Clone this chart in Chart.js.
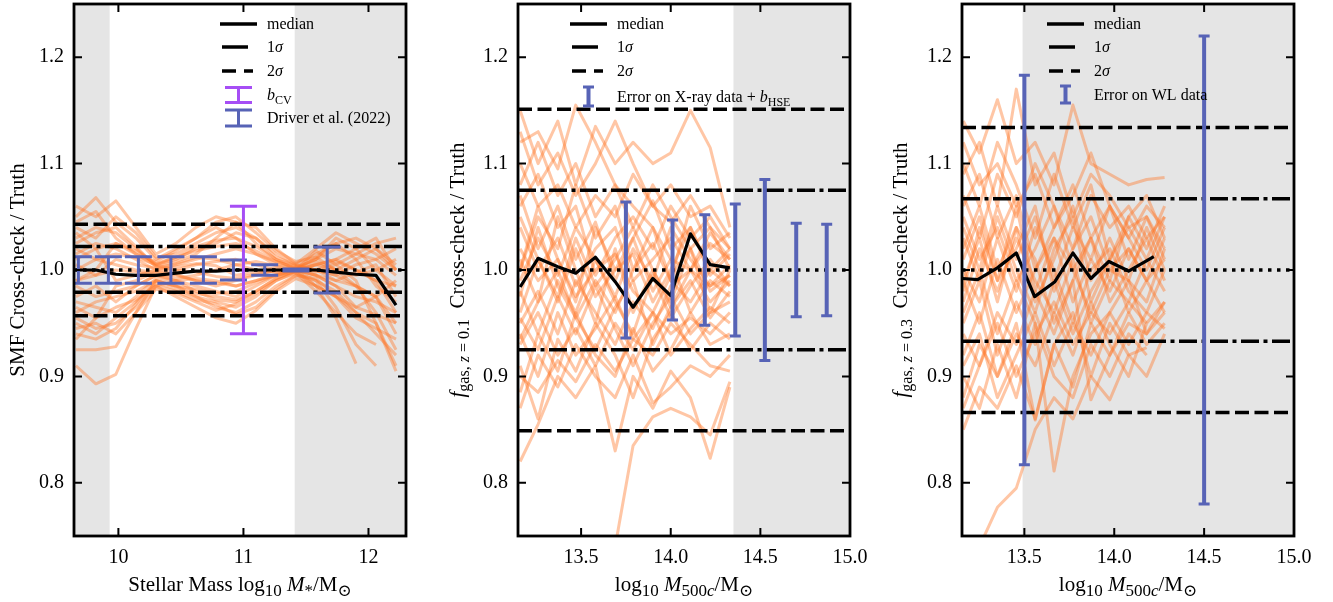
<!DOCTYPE html>
<html>
<head>
<meta charset="utf-8">
<script src="https://cdn.jsdelivr.net/npm/chart.js@4.4.1/dist/chart.umd.min.js"></script>
<style>
html, body { margin: 0; padding: 0; background: #fff; }
#wrap { position: relative; width: 1333px; height: 602px; overflow: hidden; }
.panel { position: absolute; top: 0; width: 440px; height: 602px; }
</style>
</head>
<body>
<div id="wrap">
  <div class="panel" style="left:0px"><canvas id="smf" width="440" height="602"></canvas></div>
  <div class="panel" style="left:444px"><canvas id="fgas1" width="440" height="602"></canvas></div>
  <div class="panel" style="left:888px"><canvas id="fgas3" width="440" height="602"></canvas></div>
</div>
<script>
// ---- tick labels ----
const yTicks = [0.8, 0.9, 1.0, 1.1, 1.2];
const smfTicks = [10, 11, 12];
const haloTicks = [13.5, 14.0, 14.5, 15.0];

// ---- panel 1 : stellar mass function ----
const smfMass = [9.66, 9.82, 9.98, 10.14, 10.30, 10.46, 10.62, 10.78, 10.94, 11.10, 11.26, 11.42, 11.58, 11.74, 11.90, 12.06, 12.22];
const smfMedian = [1.000, 1.000, 0.996, 0.995, 0.995, 0.997, 0.999, 0.999, 1.000, 1.000, 1.000, 1.000, 1.000, 0.998, 0.996, 0.995, 0.967];
const smfRuns = [
  [0.910, 0.893, 0.902, 0.945, 0.985, 0.990, 0.992, 0.990, 0.985, 0.990, 0.995, 0.998, 1.000, 0.995, 0.985, 0.975, 0.950],
  [1.050, 1.068, 1.045, 1.030, 1.010, 1.020, 1.030, 1.040, 1.030, 1.015, 1.005, 1.002, 1.010, 1.030, 1.020, 1.000, 0.985],
  [0.925, 0.925, 0.928, 0.960, 0.990, 0.985, 0.975, 0.965, 0.960, 0.970, 0.985, 0.995, 0.990, 0.965, 0.930, 0.910, null],
  [1.060, 1.050, 1.065, 1.040, 1.015, 1.025, 1.040, 1.050, 1.045, 1.025, 1.010, 1.000, 1.005, 1.010, 1.020, 1.030, 1.000],
  [0.955, 0.945, 0.950, 0.965, 0.985, 0.975, 0.965, 0.955, 0.950, 0.962, 0.980, 0.992, 0.985, 0.975, 0.960, 0.950, 0.905],
  [1.030, 1.040, 1.035, 1.020, 1.005, 1.010, 1.020, 1.025, 1.035, 1.030, 1.015, 1.005, 1.000, 0.995, 1.005, 1.010, 1.020],
  [0.970, 0.965, 0.960, 0.975, 0.992, 0.990, 0.985, 0.980, 0.975, 0.985, 0.995, 1.000, 0.995, 0.985, 0.975, 0.970, 0.960],
  [1.015, 1.025, 1.020, 1.010, 1.000, 1.005, 1.010, 1.015, 1.020, 1.015, 1.008, 1.003, 1.010, 1.020, 1.015, 1.025, 1.030],
  [0.985, 0.975, 0.980, 0.985, 0.995, 0.995, 0.990, 0.985, 0.990, 0.995, 1.000, 0.998, 0.985, 0.955, 0.912, null, null],
  [1.000, 1.010, 1.005, 1.000, 0.998, 1.000, 1.005, 1.008, 1.010, 1.005, 1.000, 1.000, 1.005, 1.010, 1.000, 0.990, 0.985],
  [0.945, 0.950, 0.940, 0.960, 0.982, 0.978, 0.970, 0.962, 0.968, 0.978, 0.990, 0.997, 0.980, 0.960, 0.940, 0.930, null],
  [1.040, 1.030, 1.050, 1.035, 1.012, 1.015, 1.025, 1.035, 1.040, 1.030, 1.012, 1.005, 1.015, 1.025, 1.030, 1.020, 1.005],
  [0.960, 0.970, 0.975, 0.980, 0.990, 0.985, 0.982, 0.978, 0.980, 0.988, 0.995, 1.002, 1.000, 0.990, 0.985, 0.975, 0.940],
  [1.020, 1.010, 1.015, 1.012, 1.005, 1.012, 1.018, 1.022, 1.025, 1.018, 1.008, 1.002, 0.998, 1.005, 1.015, 1.010, 0.995],
  [0.990, 0.995, 1.000, 0.998, 0.995, 0.992, 0.995, 1.000, 1.005, 1.000, 0.998, 1.000, 0.995, 0.990, 0.998, 1.005, 0.975],
  [0.950, 0.940, 0.955, 0.970, 0.988, 0.982, 0.975, 0.970, 0.965, 0.975, 0.990, 0.998, 1.005, 1.000, 0.985, 0.960, 0.925],
  [1.045, 1.055, 1.030, 1.015, 1.008, 1.018, 1.030, 1.045, 1.050, 1.035, 1.018, 1.008, 1.012, 1.000, 0.995, 1.000, 1.010],
  [0.935, 0.955, 0.965, 0.972, 0.985, 0.980, 0.972, 0.968, 0.958, 0.965, 0.982, 0.995, 0.992, 0.975, 0.955, 0.945, 0.935],
  [1.025, 1.035, 1.040, 1.022, 1.003, 1.008, 1.015, 1.030, 1.045, 1.040, 1.020, 1.006, 1.020, 1.035, 1.025, 1.015, 1.000],
  [0.975, 0.985, 0.970, 0.985, 0.995, 0.990, 0.980, 0.972, 0.970, 0.980, 0.992, 0.999, 0.990, 0.980, 0.960, 0.940, 0.920],
  [1.005, 0.995, 1.010, 1.005, 1.002, 1.006, 1.012, 1.010, 1.005, 1.008, 1.004, 1.001, 1.008, 1.000, 1.010, 1.020, 1.000],
  [0.940, 0.935, 0.945, 0.968, 0.990, 0.985, 0.978, 0.975, 0.972, 0.980, 0.992, 1.000, 0.995, 0.985, 0.965, 0.958, 0.950],
  [1.035, 1.020, 1.025, 1.018, 1.006, 1.012, 1.022, 1.028, 1.030, 1.022, 1.010, 1.004, 1.000, 1.008, 1.000, 0.990, 0.960],
  [0.965, 0.955, 0.985, 0.990, 0.998, 0.996, 0.990, 0.988, 0.985, 0.990, 0.996, 1.000, 1.012, 1.025, 1.010, 0.985, 0.970],
  [1.010, 1.020, 0.990, 0.995, 1.000, 1.003, 1.006, 1.004, 0.995, 0.998, 1.002, 1.000, 0.985, 0.975, 0.965, 0.975, 0.990],
  [0.990, 1.000, 1.025, 1.015, 1.004, 1.000, 0.998, 0.994, 0.992, 0.996, 0.999, 1.000, 1.018, 1.005, 0.990, 0.950, 0.910]
];
const smfSigma1 = [0.979, 1.022];
const smfSigma2 = [0.957, 1.043];
const driverMass = [9.68, 9.92, 10.16, 10.42, 10.68, 10.92, 11.17, 11.42, 11.67];
const driverErr = [0.0125, 0.0125, 0.0125, 0.0125, 0.0125, 0.0094, 0.005, 0.001, 0.0216];
const bcvMass = [11.0];
const bcvErr = [0.06];

// ---- panel 2 : gas fraction z = 0.1 ----
const xrayHalo = [13.16, 13.26, 13.37, 13.47, 13.58, 13.69, 13.79, 13.90, 14.00, 14.11, 14.22, 14.33];
const xrayMedian = [0.984, 1.011, 1.003, 0.997, 1.012, 0.989, 0.965, 0.992, 0.976, 1.034, 1.005, 1.002];
const xrayRuns = [
  [1.120, 1.130, 1.095, 1.155, 1.120, 1.080, 1.060, 1.040, 1.010, 1.000, 0.985, 0.995],
  [1.150, 1.100, 1.140, 1.080, 1.135, 1.100, 1.120, 1.100, 1.110, 1.150, 1.115, 1.040],
  [0.820, 0.855, 0.900, 0.880, 0.910, 0.830, 0.900, 0.870, 0.905, 0.880, 0.823, 0.890],
  [0.900, 0.885, 0.915, 0.895, 0.930, 0.905, 0.935, 0.920, 0.950, 0.930, 0.910, 0.905],
  [1.000, 1.050, 1.020, 1.080, 1.030, 1.060, 1.000, 1.040, 0.990, 1.060, 1.020, 1.035],
  [0.950, 0.980, 0.940, 0.990, 0.960, 0.930, 0.970, 0.945, 0.985, 1.000, 0.970, 0.990],
  [1.070, 1.020, 1.060, 1.010, 1.045, 0.990, 1.030, 1.065, 1.020, 1.040, 0.995, 1.015],
  [0.980, 0.940, 0.990, 0.960, 1.010, 0.970, 0.940, 0.995, 0.955, 0.985, 1.010, 0.985],
  [1.100, 1.060, 1.080, 1.040, 1.070, 1.050, 1.090, 1.060, 1.045, 1.070, 1.040, 1.020],
  [0.930, 0.960, 0.920, 0.945, 0.910, 0.950, 0.925, 0.960, 0.940, 0.955, 0.940, 0.960],
  [1.040, 1.000, 1.030, 0.985, 1.020, 1.040, 0.990, 1.010, 1.030, 1.000, 1.035, 1.010],
  [0.960, 1.010, 0.970, 1.020, 0.975, 1.000, 1.030, 0.980, 1.010, 0.960, 0.990, 0.975],
  [1.010, 0.970, 1.050, 1.000, 0.950, 1.020, 0.960, 1.000, 0.970, 1.020, 0.960, 1.000],
  [0.870, 0.920, 0.890, 0.930, 0.900, 0.880, 0.920, 0.875, 0.890, 0.910, 0.900, 0.920],
  [1.130, 1.080, 1.110, 1.070, 1.100, 1.140, 1.100, 1.060, 1.080, 1.050, 1.060, 1.030],
  [0.990, 1.030, 0.995, 1.040, 1.010, 0.975, 1.020, 0.990, 1.040, 1.010, 0.985, 1.005],
  [1.060, 1.090, 1.040, 1.060, 0.995, 1.030, 1.050, 1.020, 1.060, 1.030, 1.050, 1.020],
  [0.940, 0.900, 0.960, 0.920, 0.945, 0.975, 0.935, 0.960, 0.920, 0.945, 0.965, 0.950],
  [null, null, null, null, null, 0.740, 0.835, 0.862, 0.870, 0.862, 0.845, 0.895],
  [0.910, 0.860, 0.935, 0.905, 0.950, 0.920, 0.880, 0.935, 0.960, 0.925, 0.950, 0.935],
  [1.020, 0.990, 1.010, 0.975, 1.000, 1.015, 0.980, 0.960, 0.995, 1.020, 0.980, 0.995],
  [0.975, 1.040, 0.985, 0.955, 0.990, 0.960, 1.000, 1.025, 0.990, 0.970, 1.000, 0.985],
  [1.050, 1.010, 0.975, 1.030, 0.985, 1.010, 1.040, 1.000, 0.965, 1.000, 1.025, 1.010],
  [0.955, 0.925, 0.975, 0.940, 0.985, 0.945, 0.910, 0.950, 0.975, 0.940, 0.960, 0.970],
  [1.080, 1.120, 1.070, 1.100, 1.050, 1.080, 1.040, 1.080, 1.050, 1.020, 1.040, 1.000],
  [0.885, 0.940, 0.905, 0.960, 0.920, 0.900, 0.945, 0.905, 0.925, 0.960, 0.930, 0.940],
  [1.000, 1.060, 1.010, 0.970, 1.040, 1.000, 1.015, 0.970, 1.000, 1.040, 1.000, 1.020],
  [0.935, 0.970, 1.000, 0.955, 0.925, 0.965, 0.990, 0.930, 0.965, 0.990, 0.955, 0.980]
];
const xraySigma1 = [0.925, 1.075];
const xraySigma2 = [0.849, 1.151];
const xrayErrHalo = [13.75, 14.01, 14.19, 14.36, 14.525, 14.70, 14.87];
const xrayErr = [0.064, 0.047, 0.052, 0.062, 0.085, 0.044, 0.043];

// ---- panel 3 : gas fraction z = 0.3 ----
const wlHalo = [13.16, 13.25, 13.35, 13.455, 13.56, 13.665, 13.77, 13.87, 13.975, 14.08, 14.18, 14.28];
const wlMedianHalo = [13.156, 13.24, 13.35, 13.455, 13.557, 13.67, 13.77, 13.87, 13.97, 14.08, 14.22];
const wlMedian = [0.992, 0.991, 1.002, 1.016, 0.975, 0.989, 1.016, 0.992, 1.008, 0.999, 1.0125];
const wlRuns = [
  [1.140, 1.110, 1.160, 1.100, 1.120, 1.080, 1.155, 1.100, 1.090, 1.080, 1.085, 1.087],
  [1.090, 1.120, 1.060, 1.170, 1.080, 1.110, 1.050, 1.090, 1.070, 1.040, 1.050, 1.020],
  [0.850, 0.890, 0.870, 0.910, 0.860, 0.930, 0.890, 0.950, 0.920, 0.960, 0.930, 0.950],
  [null, 0.740, 0.777, 0.795, 0.850, 0.880, 0.860, 0.900, 0.878, 0.920, 0.900, 0.940],
  [0.960, 1.000, 0.940, 0.990, 0.950, 0.811, 0.900, 0.940, 0.960, 0.930, 0.960, 0.945],
  [1.040, 1.000, 1.060, 1.010, 1.050, 0.990, 1.040, 1.010, 1.060, 1.030, 1.000, 1.040],
  [0.990, 0.950, 1.010, 0.960, 1.000, 1.030, 0.970, 1.010, 0.980, 1.020, 0.990, 1.010],
  [1.020, 1.060, 1.000, 1.040, 0.970, 1.010, 1.060, 0.990, 1.030, 0.990, 1.040, 1.000],
  [0.920, 0.960, 0.900, 0.950, 0.859, 0.930, 0.960, 0.900, 0.950, 0.920, 0.927, null],
  [1.070, 1.030, 1.090, 1.050, 1.100, 1.060, 1.020, 1.070, 1.040, 1.060, 1.030, 1.050],
  [0.970, 1.020, 0.980, 1.030, 0.990, 0.960, 1.010, 0.950, 0.990, 0.970, 1.010, 0.980],
  [1.000, 0.970, 1.030, 0.980, 1.040, 1.000, 0.950, 1.000, 1.020, 0.980, 0.960, 1.000],
  [0.940, 0.910, 0.960, 0.930, 0.980, 0.940, 0.990, 0.878, 0.920, 0.950, 0.940, 0.960],
  [1.100, 1.060, 1.120, 1.080, 1.030, 1.090, 1.040, 1.080, 1.010, 1.050, 1.020, 1.060],
  [0.880, 0.930, 0.900, 0.940, 0.910, 0.960, 0.920, 0.970, 0.930, 0.900, 0.950, 0.970],
  [1.050, 1.010, 1.040, 0.990, 1.020, 1.060, 1.000, 1.030, 0.990, 1.050, 1.070, 1.030],
  [0.980, 1.040, 0.990, 1.060, 0.980, 1.030, 1.000, 0.960, 1.000, 0.990, 0.970, 1.020],
  [0.900, 0.870, 0.930, 0.880, 0.950, 0.900, 0.880, 0.930, 0.900, 0.940, 0.920, null],
  [1.010, 1.050, 0.990, 1.020, 1.060, 0.980, 1.020, 1.050, 1.000, 1.020, 0.990, 1.030],
  [0.950, 0.990, 0.920, 0.970, 0.930, 0.990, 0.940, 0.980, 1.010, 0.960, 0.990, 0.960],
  [1.060, 1.090, 1.030, 1.070, 1.000, 1.040, 1.080, 1.030, 1.060, 1.010, 1.050, 1.010],
  [0.910, 0.940, 0.880, 0.920, 0.960, 0.910, 0.950, 0.920, 0.960, 0.990, 0.940, 0.970],
  [1.030, 0.990, 1.050, 1.000, 0.960, 1.020, 1.050, 0.970, 1.010, 1.040, 1.010, 1.050],
  [0.990, 1.030, 0.970, 1.040, 1.010, 0.950, 0.990, 1.030, 0.970, 1.000, 1.030, 0.990],
  [0.870, 0.910, 0.950, 0.900, 0.940, 0.970, 0.930, 0.960, 0.940, 0.970, 0.950, null],
  [1.120, 1.080, 1.100, 1.060, 1.090, 1.040, 1.070, 1.110, 1.060, 1.030, 1.060, 1.040]
];
const wlSigma1 = [0.933, 1.067];
const wlSigma2 = [0.866, 1.134];
const wlErrHalo = [13.5, 14.5];
const wlErr = [0.183, 0.22];

// ---- styling ----
const FONT = '"Liberation Serif", "DejaVu Serif", serif';
const ORANGE = 'rgba(255, 120, 40, 0.42)';
const BLUE = '#5763b6';
const PURPLE = '#a64ef5';
const GREY = '#e5e5e5';
const DASH = [14, 5.5];
const DASHDOT = [18, 4.5, 4, 4.5];
const DOT = [3.5, 5.5];

function pts(xs, ys) {
  return xs.map((x, i) => ({ x: x, y: ys[i] }));
}

function lineSet(xs, ys, color, width, dash, order) {
  return {
    data: pts(xs, ys),
    borderColor: color,
    borderWidth: width,
    borderDash: dash || [],
    borderJoinStyle: 'round',
    pointRadius: 0,
    tension: 0,
    fill: false,
    spanGaps: false,
    order: order
  };
}

// rich text: parts = [[text, flags]] flags: i = italic, s = subscript
function rich(ctx, parts, x, y, size, rotate, align, subRatio) {
  const sr = subRatio || 0.7;
  ctx.save();
  ctx.translate(x, y);
  if (rotate) ctx.rotate(-Math.PI / 2);
  ctx.fillStyle = '#000';
  ctx.textBaseline = 'alphabetic';
  ctx.textAlign = 'left';
  const fonts = parts.map(p => (p[1].includes('i') ? 'italic ' : '') +
    (p[1].includes('s') ? Math.round(size * sr) : size) + 'px ' + FONT);
  const widths = parts.map((p, k) => { ctx.font = fonts[k]; return ctx.measureText(p[0]).width; });
  const total = widths.reduce((a, b) => a + b, 0);
  let cx = align === 'left' ? 0 : -total / 2;
  parts.forEach((p, k) => {
    ctx.font = fonts[k];
    ctx.fillText(p[0], cx, p[1].includes('s') ? size * 0.25 : 0);
    cx += widths[k];
  });
  ctx.restore();
}

function errBar(ctx, px, top, bottom, color, lw, capHalf, capLw) {
  ctx.save();
  ctx.strokeStyle = color;
  ctx.lineCap = 'butt';
  ctx.lineWidth = lw;
  ctx.beginPath();
  ctx.moveTo(px, top); ctx.lineTo(px, bottom);
  ctx.stroke();
  ctx.lineWidth = capLw;
  ctx.beginPath();
  ctx.moveTo(px - capHalf, top); ctx.lineTo(px + capHalf, top);
  ctx.moveTo(px - capHalf, bottom); ctx.lineTo(px + capHalf, bottom);
  ctx.stroke();
  ctx.restore();
}

function makePlugin(spec) {
  return {
    id: 'panel_' + spec.id,
    beforeDatasetsDraw(chart) {
      const { ctx, chartArea: a, scales: { x } } = chart;
      ctx.save();
      ctx.fillStyle = GREY;
      spec.spans.forEach(s => {
        const x0 = Math.max(a.left, x.getPixelForValue(s[0]));
        const x1 = Math.min(a.right, x.getPixelForValue(s[1]));
        ctx.fillRect(x0, a.top, x1 - x0, a.bottom - a.top);
      });
      ctx.restore();
    },
    afterDatasetsDraw(chart) {
      const { ctx, chartArea: a, scales: { x, y } } = chart;
      ctx.save();
      ctx.beginPath();
      ctx.rect(a.left, a.top, a.right - a.left, a.bottom - a.top);
      ctx.clip();
      spec.bars.forEach(b => {
        b.xs.forEach((xv, i) => {
          errBar(ctx, x.getPixelForValue(xv), y.getPixelForValue(1 + b.err[i]),
            y.getPixelForValue(1 - b.err[i]), b.color, b.lw, b.cap, b.capLw);
        });
      });
      ctx.restore();

      // frame and inward ticks
      ctx.save();
      ctx.strokeStyle = '#000';
      ctx.lineWidth = 2;
      ctx.beginPath();
      spec.xt.forEach(v => {
        const p = x.getPixelForValue(v);
        ctx.moveTo(p, a.bottom); ctx.lineTo(p, a.bottom - 8);
        ctx.moveTo(p, a.top); ctx.lineTo(p, a.top + 8);
      });
      yTicks.forEach(v => {
        const p = y.getPixelForValue(v);
        ctx.moveTo(a.left, p); ctx.lineTo(a.left + 8, p);
        ctx.moveTo(a.right, p); ctx.lineTo(a.right - 8, p);
      });
      ctx.stroke();
      ctx.lineWidth = 2.8;
      ctx.strokeRect(a.left, a.top, a.right - a.left, a.bottom - a.top);
      ctx.restore();
    },
    afterDraw(chart) {
      const { ctx, chartArea: a } = chart;
      const cx = (a.left + a.right) / 2;
      rich(ctx, spec.xTitle, cx, 591, 21, false, 'center', 0.8);
      rich(ctx, spec.yTitle, spec.yTitleX, (a.top + a.bottom) / 2, 21, true, 'center', 0.78);

      // legend
      const lx = a.left + spec.legX;
      const tx = lx + 47;
      const rows = [24, 47, 71];
      const styles = [[], [26, 30], [14, 8, 9, 30]];
      const labels = [[['median', '']], [['1', ''], ['σ', 'i']], [['2', ''], ['σ', 'i']]];
      ctx.save();
      ctx.strokeStyle = '#000';
      ctx.lineWidth = 3.5;
      ctx.lineCap = 'butt';
      rows.forEach((ry, k) => {
        ctx.setLineDash(styles[k]);
        ctx.beginPath();
        ctx.moveTo(k === 0 ? lx : lx + 2, ry);
        ctx.lineTo(lx + 37, ry);
        ctx.stroke();
      });
      ctx.setLineDash([]);
      ctx.restore();
      rows.forEach((ry, k) => rich(ctx, labels[k], tx, ry + 5, 16, false, 'left'));
      spec.legBars.forEach(lb => {
        errBar(ctx, lx + 18.5, lb.y - lb.h, lb.y + lb.h, lb.color, lb.lw, lb.cap, lb.capLw);
        rich(ctx, lb.text, tx, lb.y + 5, 16, false, 'left', 0.75);
      });
    }
  };
}

function makePanel(id, spec) {
  const datasets = [];
  spec.runs.forEach(r => datasets.push(lineSet(spec.xs, r, ORANGE, 3, [], 4)));
  const xr = [spec.xmin, spec.xmax];
  datasets.push(lineSet(xr, [1, 1], '#000', 3.5, DOT, 2));
  spec.sigma1.forEach(v => datasets.push(lineSet(xr, [v, v], '#000', 3.5, DASHDOT, 2)));
  spec.sigma2.forEach(v => datasets.push(lineSet(xr, [v, v], '#000', 3.5, DASH, 2)));
  datasets.push(lineSet(spec.medX, spec.median, '#000', 3.2, [], 1));

  return new Chart(document.getElementById(id), {
    type: 'line',
    data: { datasets: datasets },
    options: {
      responsive: false,
      animation: false,
      layout: { padding: { top: 4, right: 34, left: 0, bottom: 0 } },
      plugins: { legend: { display: false }, tooltip: { enabled: false } },
      scales: {
        x: {
          type: 'linear',
          min: spec.xmin,
          max: spec.xmax,
          afterBuildTicks: s => { s.ticks = spec.xt.map(v => ({ value: v })); },
          afterFit: s => { s.height = 66; s.paddingLeft = 0; s.paddingRight = 0; },
          grid: { display: false, drawTicks: false },
          border: { display: false },
          ticks: {
            autoSkip: false, maxRotation: 0, padding: 10, color: '#000',
            font: { family: FONT, size: 20 },
            callback: v => spec.fmt(v)
          }
        },
        y: {
          type: 'linear',
          min: 0.75,
          max: 1.25,
          afterBuildTicks: s => { s.ticks = yTicks.map(v => ({ value: v })); },
          afterFit: s => { s.width = 74; s.paddingTop = 0; s.paddingBottom = 0; },
          grid: { display: false, drawTicks: false },
          border: { display: false },
          ticks: {
            autoSkip: false, padding: 10, color: '#000',
            font: { family: FONT, size: 20 },
            callback: v => v.toFixed(1)
          }
        }
      }
    },
    plugins: [makePlugin(spec)]
  });
}

makePanel('smf', {
  id: 'smf',
  xmin: 9.645, xmax: 12.30,
  xt: smfTicks, fmt: v => String(v),
  xs: smfMass, runs: smfRuns, medX: smfMass, median: smfMedian,
  sigma1: smfSigma1, sigma2: smfSigma2,
  spans: [[9.645, 9.93], [11.41, 12.30]],
  bars: [
    { xs: driverMass, err: driverErr, color: BLUE, lw: 3, cap: 13.5, capLw: 3 },
    { xs: bcvMass, err: bcvErr, color: PURPLE, lw: 3, cap: 13.5, capLw: 3 }
  ],
  xTitle: [['Stellar Mass log', ''], ['10', 's'], [' ', ''], ['M', 'i'], ['*', 's'], ['/M', ''], ['⊙', 's']],
  yTitle: [['SMF Cross-check / Truth', '']],
  yTitleX: 24,
  legX: 146,
  legBars: [
    { y: 95, h: 7.5, color: PURPLE, lw: 3, cap: 13.5, capLw: 3, text: [['b', 'i'], ['CV', 's']] },
    { y: 118, h: 8, color: BLUE, lw: 3, cap: 13.5, capLw: 3, text: [['Driver et al. (2022)', '']] }
  ]
});

makePanel('fgas1', {
  id: 'fgas1',
  xmin: 13.148, xmax: 15.0,
  xt: haloTicks, fmt: v => v.toFixed(1),
  xs: xrayHalo, runs: xrayRuns, medX: xrayHalo, median: xrayMedian,
  sigma1: xraySigma1, sigma2: xraySigma2,
  spans: [[14.35, 15.0]],
  bars: [{ xs: xrayErrHalo, err: xrayErr, color: BLUE, lw: 4, cap: 5.5, capLw: 3 }],
  xTitle: [['log', ''], ['10', 's'], [' ', ''], ['M', 'i'], ['500', 's'], ['c', 'si'], ['/M', ''], ['⊙', 's']],
  yTitle: [['f', 'i'], ['gas, ', 's'], ['z', 'si'], [' = 0.1', 's'], ['  Cross-check / Truth', '']],
  yTitleX: 20,
  legX: 52,
  legBars: [
    { y: 96.5, h: 9.5, color: BLUE, lw: 4, cap: 5.5, capLw: 3, text: [['Error on X-ray data + ', ''], ['b', 'i'], ['HSE', 's']] }
  ]
});

makePanel('fgas3', {
  id: 'fgas3',
  xmin: 13.153, xmax: 15.0,
  xt: haloTicks, fmt: v => v.toFixed(1),
  xs: wlHalo, runs: wlRuns, medX: wlMedianHalo, median: wlMedian,
  sigma1: wlSigma1, sigma2: wlSigma2,
  spans: [[13.49, 15.0]],
  bars: [{ xs: wlErrHalo, err: wlErr, color: BLUE, lw: 4, cap: 5.5, capLw: 3 }],
  xTitle: [['log', ''], ['10', 's'], [' ', ''], ['M', 'i'], ['500', 's'], ['c', 'si'], ['/M', ''], ['⊙', 's']],
  yTitle: [['f', 'i'], ['gas, ', 's'], ['z', 'si'], [' = 0.3', 's'], ['  Cross-check / Truth', '']],
  yTitleX: 19,
  legX: 85,
  legBars: [
    { y: 94.5, h: 8.5, color: BLUE, lw: 4, cap: 5.5, capLw: 3, text: [['Error on WL data', '']] }
  ]
});
</script>
</body>
</html>
